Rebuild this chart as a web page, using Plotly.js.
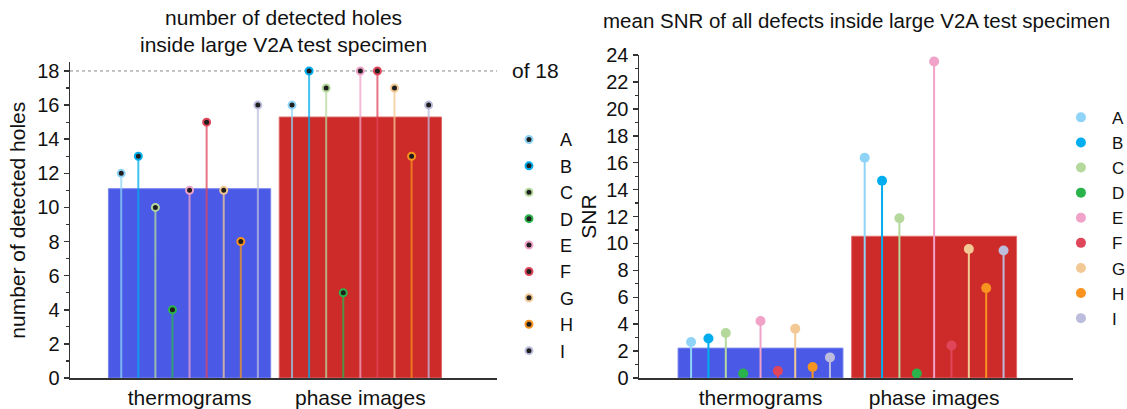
<!DOCTYPE html>
<html>
<head>
<meta charset="utf-8">
<script src="https://cdn.plot.ly/plotly-3.0.1.min.js"></script>
<style>html,body{margin:0;padding:0;background:#fff;}#chart{width:1127px;height:409px;}</style>
</head>
<body>
<div id="chart"></div>
<script>
// ---- data ----
const categories = ['thermograms', 'phase images'];
const seriesNames = ['A', 'B', 'C', 'D', 'E', 'F', 'G', 'H', 'I'];
// number of detected holes [thermograms, phase images]
const holesA = [12, 16];
const holesB = [13, 18];
const holesC = [10, 17];
const holesD = [4, 5];
const holesE = [11, 18];
const holesF = [15, 18];
const holesG = [11, 17];
const holesH = [8, 13];
const holesI = [16, 16];
const holesBar = [11.1, 15.3];
const totalHoles = 18;
// mean SNR [thermograms, phase images]
const snrA = [2.67, 16.37];
const snrB = [2.93, 14.66];
const snrC = [3.34, 11.87];
const snrD = [0.34, 0.34];
const snrE = [4.24, 23.52];
const snrF = [0.52, 2.42];
const snrG = [3.66, 9.59];
const snrH = [0.82, 6.68];
const snrI = [1.53, 9.47];
const snrBar = [2.22, 10.53];

const holes = [holesA, holesB, holesC, holesD, holesE, holesF, holesG, holesH, holesI];
const snr = [snrA, snrB, snrC, snrD, snrE, snrF, snrG, snrH, snrI];

// ---- style ----
const colors = ['#8fd4f7', '#00aeef', '#b5d99c', '#2bb34b', '#f0a2c8', '#e0465a', '#f2c894', '#f7931e', '#bcbddd'];
const barColors = ['#4a5ae6', '#cd2a2a'];
const barLine = ['#7a86ee', '#e06a6a'];
const font = 'Liberation Sans, Arial, sans-serif';
const step = 0.1;

function rgba(hex, a) {
  const r = parseInt(hex.slice(1, 3), 16), g = parseInt(hex.slice(3, 5), 16), b = parseInt(hex.slice(5, 7), 16);
  return 'rgba(' + r + ',' + g + ',' + b + ',' + a + ')';
}
const catPos = categories.map((c, i) => i);

const traces = [];
traces.push({type: 'bar', x: catPos, y: holesBar, width: 0.95, xaxis: 'x', yaxis: 'y',
  marker: {color: barColors, line: {color: barLine, width: 1}}, showlegend: false, hoverinfo: 'skip'});
traces.push({type: 'bar', x: catPos, y: snrBar, width: 0.95, xaxis: 'x2', yaxis: 'y2',
  marker: {color: barColors, line: {color: barLine, width: 1}}, showlegend: false, hoverinfo: 'skip'});

seriesNames.forEach((name, i) => {
  const off = (i - (seriesNames.length - 1) / 2) * step;
  const xs = catPos.map(p => p + off);
  traces.push({
    type: 'scatter', mode: 'markers', name: name, x: xs, y: holes[i], xaxis: 'x', yaxis: 'y',
    legend: 'legend', cliponaxis: false,
    marker: {color: '#1e1e1e', size: 7, line: {color: colors[i], width: 2}},
    error_y: {type: 'data', symmetric: false, array: holes[i].map(() => 0), arrayminus: holes[i],
      width: 0, thickness: 2, color: rgba(colors[i], 0.75)}
  });
  traces.push({
    type: 'scatter', mode: 'markers', name: name, x: xs, y: snr[i], xaxis: 'x2', yaxis: 'y2',
    legend: 'legend2', cliponaxis: false,
    marker: {color: colors[i], size: 10},
    error_y: {type: 'data', symmetric: false, array: snr[i].map(() => 0), arrayminus: snr[i],
      width: 0, thickness: 2, color: colors[i]}
  });
});

const axisCommon = {showgrid: false, zeroline: false, showline: true, linecolor: '#333', linewidth: 1.5,
  tickfont: {family: font, size: 20, color: '#111'}};
const xCommon = Object.assign({}, axisCommon, {range: [-0.7, 1.8], tickvals: catPos, ticktext: categories, ticks: '',
  tickfont: {family: font, size: 21, color: '#111'}});
const yCommon = Object.assign({}, axisCommon, {dtick: 2, tick0: 0, ticks: 'outside', ticklen: 5, tickwidth: 1.5, tickcolor: '#333',
  minor: {dtick: 1, ticks: 'outside', ticklen: 3, tickwidth: 1.2, tickcolor: '#333'}});

const layout = {
  width: 1127, height: 409,
  margin: {l: 70, r: 54, t: 55, b: 31, autoexpand: false},
  paper_bgcolor: '#fff', plot_bgcolor: 'rgba(0,0,0,0)',
  font: {family: font, color: '#111'},
  barmode: 'overlay',
  xaxis: Object.assign({}, xCommon, {domain: [0, 0.4257], anchor: 'y'}),
  yaxis: Object.assign({}, yCommon, {domain: [0, 0.977], range: [0, 18.5], anchor: 'x',
    title: {text: 'number of detected holes', font: {family: font, size: 21, color: '#111'}, standoff: 6}}),
  xaxis2: Object.assign({}, xCommon, {domain: [0.5673, 1], anchor: 'y2'}),
  yaxis2: Object.assign({}, yCommon, {domain: [0, 1], range: [0, 24], anchor: 'x2',
    title: {text: 'SNR', font: {family: font, size: 21, color: '#111'}, standoff: 4}}),
  legend: {x: 0.4267, xanchor: 'left', y: 0.411, yanchor: 'middle', itemwidth: 52,
    font: {family: font, size: 18, color: '#111'}, bgcolor: 'rgba(0,0,0,0)'},
  legend2: {x: 0.977, xanchor: 'left', y: 0.496, yanchor: 'middle', itemwidth: 52,
    font: {family: font, size: 17, color: '#111'}, bgcolor: 'rgba(0,0,0,0)'},
  shapes: [{type: 'line', xref: 'x domain', x0: 0, x1: 1, yref: 'y', y0: totalHoles, y1: totalHoles,
    line: {color: '#888', width: 1, dash: 'dot'}, layer: 'below'}],
  annotations: [
    {xref: 'x domain', x: 0.5, yref: 'paper', y: 1.073, yanchor: 'middle', showarrow: false,
      text: 'number of detected holes<br>inside large V2A test specimen', font: {family: font, size: 21, color: '#111'}},
    {xref: 'x2 domain', x: 0.5, yref: 'paper', y: 1.108, yanchor: 'middle', showarrow: false,
      text: 'mean SNR of all defects inside large V2A test specimen', font: {family: font, size: 20.5, color: '#111'}},
    {xref: 'x domain', x: 1.03, xanchor: 'left', yref: 'y', y: totalHoles, yanchor: 'middle', showarrow: false,
      text: 'of ' + totalHoles, font: {family: font, size: 21, color: '#111'}}
  ]
};

Plotly.newPlot('chart', traces, layout, {displayModeBar: false, staticPlot: true});
</script>
</body>
</html>
